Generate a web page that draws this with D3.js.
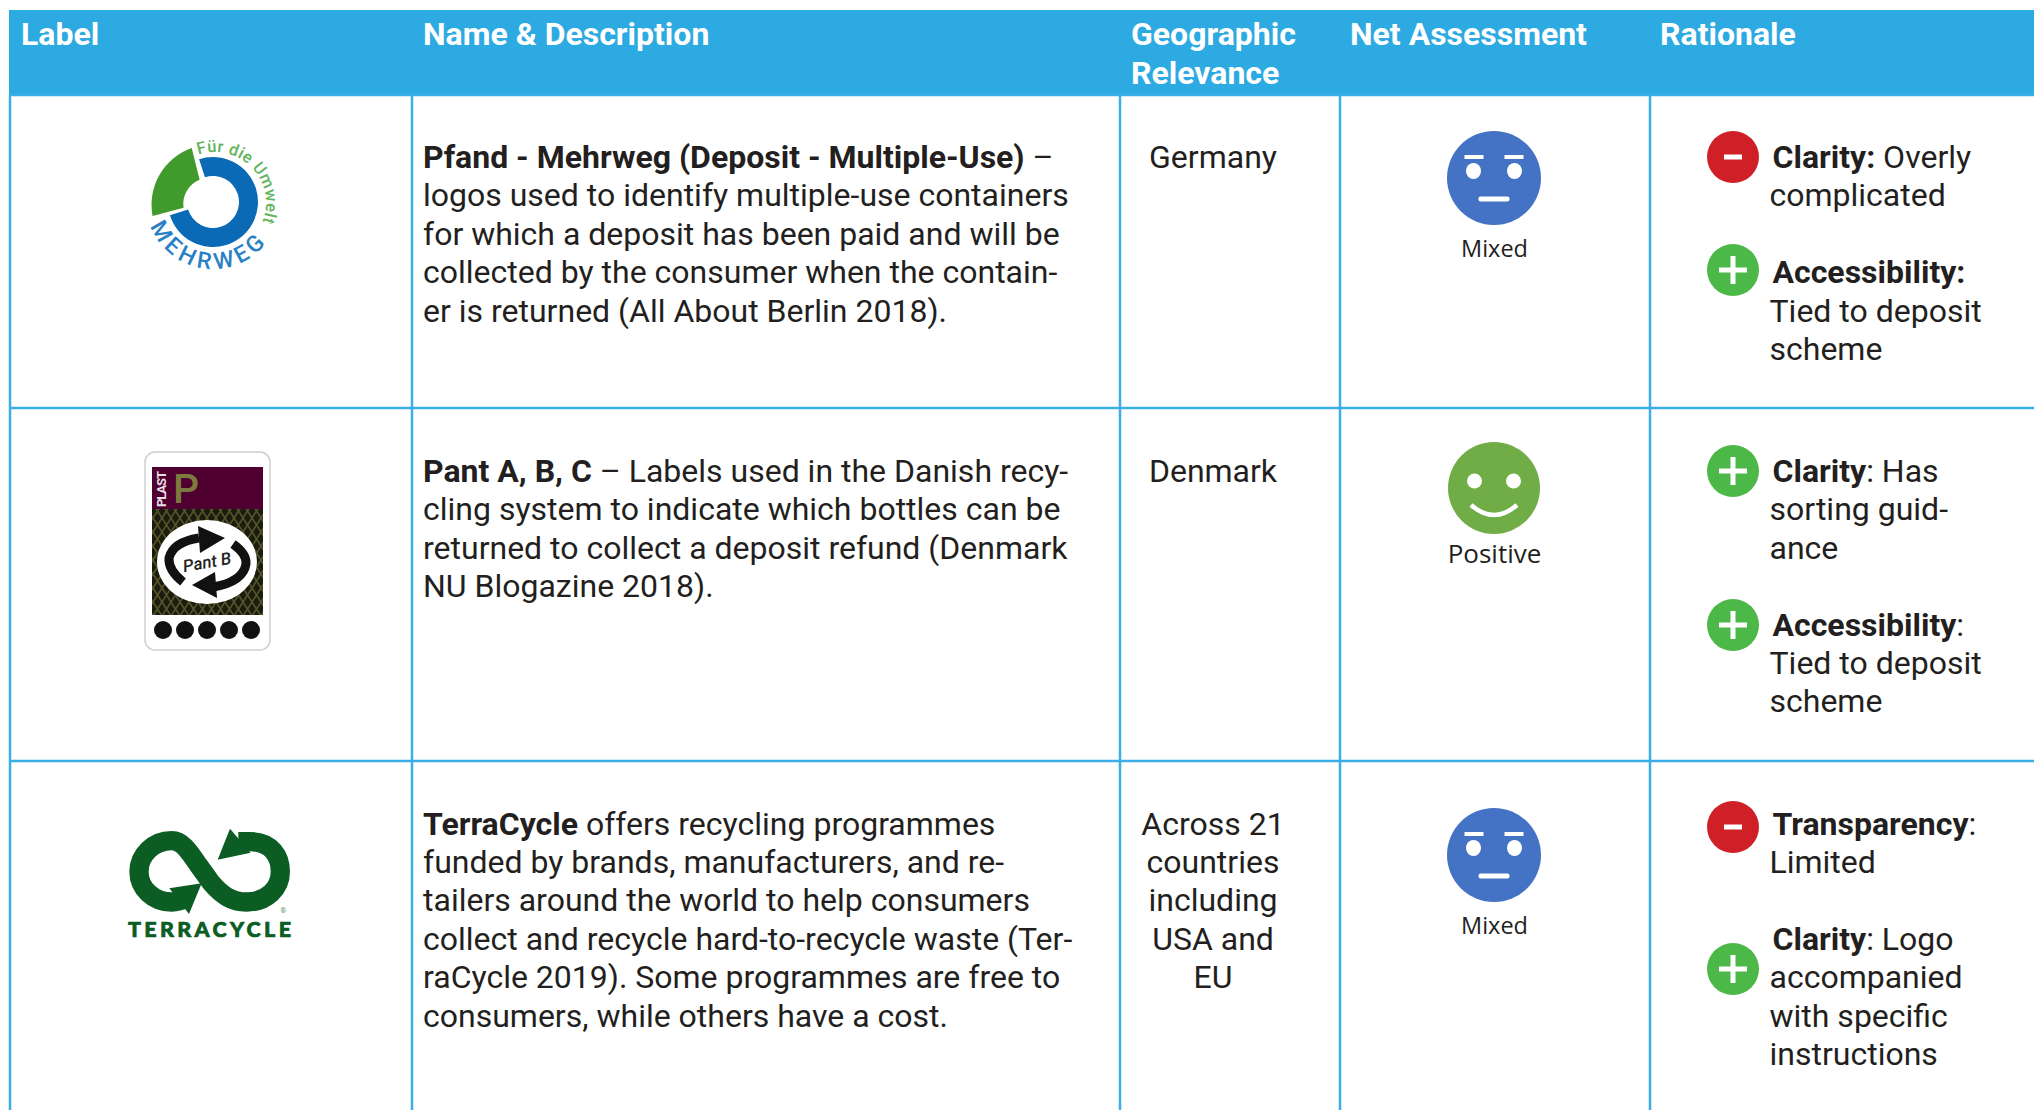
<!DOCTYPE html>
<html>
<head>
    <title>Deposit and recycling labels</title>
    <script src="https://d3js.org/d3.v7.min.js"></script>
    <style>
        html, body { margin: 0; padding: 0; background: #fff; }
        svg { display: block; }
        text { font-family: Roboto, sans-serif; fill: #231f20; }
        .head { fill: #fff; font-weight: 700; font-size: 32px; }
        .body { font-size: 32px; }
        .rating { font-family: "Open Sans", sans-serif; }
    </style>
</head>
<body>
    <svg width="2034" height="1110"></svg>

    <script>
        // Table content. "|" splits the bold lead-in from the normal text of a line
        const headers = [["Label"], ["Name & Description"], ["Geographic", "Relevance"], ["Net Assessment"], ["Rationale"]];
        const descriptions = [
            ["Pfand - Mehrweg (Deposit - Multiple-Use)| –", "logos used to identify multiple-use containers", "for which a deposit has been paid and will be", "collected by the consumer when the contain-", "er is returned (All About Berlin 2018)."],
            ["Pant A, B, C| – Labels used in the Danish recy-", "cling system to indicate which bottles can be", "returned to collect a deposit refund (Denmark", "NU Blogazine 2018)."],
            ["TerraCycle| offers recycling programmes", "funded by brands, manufacturers, and re-", "tailers around the world to help consumers", "collect and recycle hard-to-recycle waste (Ter-", "raCycle 2019). Some programmes are free to", "consumers, while others have a cost."]
        ];
        const geography = [["Germany"], ["Denmark"], ["Across 21", "countries", "including", "USA and", "EU"]];
        const ratings = ["Mixed", "Positive", "Mixed"];
        // empty strings keep the blank line between two rationale points
        const rationale = [
            ["Clarity:| Overly", "complicated", "", "Accessibility:|", "Tied to deposit", "scheme"],
            ["Clarity|: Has", "sorting guid-", "ance", "", "Accessibility|:", "Tied to deposit", "scheme"],
            ["Transparency|:", "Limited", "", "Clarity|: Logo", "accompanied", "with specific", "instructions"]
        ];
        const signs = [["minus", "plus"], ["plus", "plus"], ["minus", "plus"]];

        const colX = [10, 412, 1120, 1340, 1650, 2034];
        const rowY = [95, 408, 761, 1110];
        const firstLine = [168, 482, 834.5];
        const lineH = 38.4;
        const signY = [[157, 270], [471, 625], [827, 969]];
        const faceY = [178, 488, 855];
        const ratingY = [257, 563, 934];
        const ratingSize = [23.5, 26, 23.5];
        const blue = "#2daae1", rule = "#3aafe6";
        const faceX = 1494, signX = 1733;

        const svg = d3.select("svg");

        // writes one line with an optional bold lead-in
        function addLine(sel, line) {
            const parts = line.split("|");
            if (parts.length > 1) {
                sel.append("tspan").attr("font-weight", 700).text(parts[0]);
                sel.append("tspan").text(parts[1]);
            } else {
                sel.text(line);
            }
        }

        // Header band
        svg.append("rect").attr("x", 9).attr("y", 10).attr("width", 2025).attr("height", 85.5).attr("fill", blue);
        const headX = [21, 423, 1131, 1350, 1660];
        headers.forEach((lines, i) => {
            svg.selectAll(null).data(lines).enter().append("text")
                .attr("class", "head")
                .attr("x", headX[i])
                .attr("y", (d, j) => 44.5 + j * 39)
                .text(d => d);
        });

        // Grid
        svg.selectAll(".v").data(colX.slice(0, 5)).enter().append("line")
            .attr("x1", d => d).attr("x2", d => d)
            .attr("y1", 95).attr("y2", 1110)
            .attr("stroke", rule).attr("stroke-width", 2.5);
        svg.selectAll(".h").data(rowY.slice(0, 3)).enter().append("line")
            .attr("x1", 9).attr("x2", 2034)
            .attr("y1", d => d).attr("y2", d => d)
            .attr("stroke", rule).attr("stroke-width", 2.5);

        // Description column
        descriptions.forEach((lines, r) => {
            lines.forEach((line, j) => {
                svg.append("text").attr("class", "body")
                    .attr("x", 423)
                    .attr("y", firstLine[r] + j * lineH)
                    .call(addLine, line);
            });
        });

        // Geography column
        geography.forEach((lines, r) => {
            svg.selectAll(null).data(lines).enter().append("text")
                .attr("class", "body")
                .attr("text-anchor", "middle")
                .attr("x", 1213)
                .attr("y", (d, j) => firstLine[r] + j * lineH)
                .text(d => d);
        });

        // Assessment faces
        ratings.forEach((rating, r) => {
            const g = svg.append("g").attr("transform", `translate(${faceX},${faceY[r]})`);
            if (rating === "Positive") {
                g.append("circle").attr("r", 46).attr("fill", "#70ad47");
                g.selectAll(null).data([-19.5, 19.5]).enter().append("ellipse")
                    .attr("cx", d => d).attr("cy", -7).attr("rx", 7.5).attr("ry", 7.5).attr("fill", "#fff");
                g.append("path").attr("d", "M-23,17 Q0,37 23,17")
                    .attr("fill", "none").attr("stroke", "#fff").attr("stroke-width", 4.5);
            } else {
                g.append("circle").attr("r", 47).attr("fill", "#4472c4");
                g.selectAll(null).data([-20.5, 20.5]).enter().append("ellipse")
                    .attr("cx", d => d).attr("cy", -7).attr("rx", 7.5).attr("ry", 8).attr("fill", "#fff");
                g.selectAll(null).data([-20, 20]).enter().append("rect")
                    .attr("x", d => d - 9.5).attr("y", -23).attr("width", 19).attr("height", 4).attr("fill", "#fff");
                g.append("rect").attr("x", -15.5).attr("y", 18.5).attr("width", 31).attr("height", 5).attr("rx", 2).attr("fill", "#fff");
            }
            svg.append("text").attr("class", "rating")
                .attr("x", faceX + 0.5).attr("y", ratingY[r])
                .attr("font-size", ratingSize[r])
                .attr("text-anchor", "middle").text(rating);
        });

        // Rationale column
        rationale.forEach((lines, r) => {
            lines.forEach((line, j) => {
                if (!line) return;
                svg.append("text").attr("class", "body")
                    .attr("x", line.includes("|") ? 1772.5 : 1769.5)
                    .attr("y", firstLine[r] + j * lineH)
                    .call(addLine, line);
            });
            signs[r].forEach((sign, k) => {
                const g = svg.append("g").attr("transform", `translate(${signX},${signY[r][k]})`);
                g.append("circle").attr("r", 26).attr("fill", sign === "plus" ? "#4cb848" : "#cf2027");
                g.append("rect").attr("x", sign === "plus" ? -14 : -9).attr("y", -2.5)
                    .attr("width", sign === "plus" ? 28 : 18).attr("height", 5).attr("fill", "#fff");
                if (sign === "plus") {
                    g.append("rect").attr("x", -2.5).attr("y", -14).attr("width", 5).attr("height", 28).attr("fill", "#fff");
                }
            });
        });

        // ---- Logos ----
        const defs = svg.append("defs");
        const polar = (deg, r) => {
            const a = deg * Math.PI / 180;
            return [r * Math.sin(a), -r * Math.cos(a)];
        };

        // Mehrweg
        const mehr = svg.append("g").attr("transform", "translate(213,202)");
        mehr.append("path")
            .attr("d", d3.arc().innerRadius(26).outerRadius(45).startAngle(-18 * Math.PI / 180).endAngle(253 * Math.PI / 180)())
            .attr("fill", "#0a6ab5");
        const [a, b, c, e] = [polar(-21.5, 58), polar(-103, 62), polar(-101, 30), polar(-31, 26)];
        mehr.append("path")
            .attr("d", `M${a} A60,60 0 0 0 ${b} L${c} A26,26 0 0 1 ${e} Z`)
            .attr("fill", "#419a2c");
        const [t1, t2] = [polar(-19, 51), polar(125, 51)];
        defs.append("path").attr("id", "arcTop").attr("d", `M${t1} A51,51 0 0 1 ${t2}`)
            .attr("transform", "translate(2,1)");
        const [m1, m2] = [polar(-111, 67), polar(100, 67)];
        defs.append("path").attr("id", "arcBottom").attr("d", `M${m1} A67,67 0 0 0 ${m2}`);
        mehr.append("text").attr("font-size", 16.5).style("fill", "#62b55c").attr("font-weight", 500)
            .append("textPath").attr("href", "#arcTop").attr("textLength", 116).text("Für die Umwelt");
        mehr.append("text").attr("font-size", 23).style("fill", "#2a80c4").attr("font-weight", 500)
            .append("textPath").attr("href", "#arcBottom").attr("textLength", 141).text("MEHRWEG");

        // Pant B card
        const mesh = defs.append("pattern").attr("id", "mesh").attr("width", 9).attr("height", 14)
            .attr("patternUnits", "userSpaceOnUse");
        mesh.append("rect").attr("width", 9).attr("height", 14).attr("fill", "#1c1c0e");
        mesh.append("path").attr("d", "M0,0 L4.5,7 L0,14 M9,0 L4.5,7 L9,14")
            .attr("fill", "none").attr("stroke", "#54542a").attr("stroke-width", 1.6);
        const pant = svg.append("g");
        pant.append("rect").attr("x", 145).attr("y", 452).attr("width", 125).attr("height", 198).attr("rx", 10)
            .attr("fill", "#fff").attr("stroke", "#cfcfcf").attr("stroke-width", 1.5);
        pant.append("rect").attr("x", 152).attr("y", 509).attr("width", 111).attr("height", 106).attr("fill", "url(#mesh)");
        pant.append("rect").attr("x", 152).attr("y", 467).attr("width", 111).attr("height", 42).attr("fill", "#4f0030");
        pant.append("text").attr("transform", "translate(166,507) rotate(-90)")
            .attr("font-size", 13).attr("font-weight", 700).style("fill", "#e8dfe4")
            .attr("textLength", 36).text("PLAST");
        pant.append("text").attr("x", 173).attr("y", 503).attr("font-size", 41).attr("font-weight", 500)
            .style("fill", "#7c7a3c").text("P");
        pant.append("ellipse").attr("cx", 207).attr("cy", 562).attr("rx", 50).attr("ry", 42).attr("fill", "#fff");
        const swirl = pant.append("g").attr("transform", "translate(207,562)");
        swirl.append("path").attr("d", "M-24,20 Q-39,8 -38,-4 Q-34,-20 -8,-24")
            .attr("fill", "none").attr("stroke", "#111").attr("stroke-width", 9);
        swirl.append("path").attr("d", "M-9,-36 L18,-24 L-7,-9 Z").attr("fill", "#111");
        swirl.append("path").attr("d", "M26,-18 Q40,-8 39,2 Q36,20 6,25")
            .attr("fill", "none").attr("stroke", "#111").attr("stroke-width", 9);
        swirl.append("path").attr("d", "M8,10 L-15,23 L10,36 Z").attr("fill", "#111");
        swirl.append("text").attr("transform", "rotate(-10)").attr("text-anchor", "middle")
            .attr("y", 6).attr("font-size", 17).attr("font-style", "italic").attr("font-weight", 500).style("fill", "#222").text("Pant B");
        pant.selectAll(".dot").data(d3.range(5)).enter().append("circle")
            .attr("cx", d => 163 + d * 22).attr("cy", 630).attr("r", 9).attr("fill", "#111");

        // TerraCycle, drawn in a 3x grid like the zoomed crop
        const terra = svg.append("g").attr("transform", "translate(100,800) scale(0.3333)");
        terra.append("path")
            .attr("d", "M415,125 L450,125 C515,125 541,170 541,215 C541,265 500,306 440,306 C395,306 365,285 335,250 L295,195 C265,150 245,122 215,122 C160,122 117,165 117,215 C117,265 160,306 215,306 C230,306 245,302 258,295")
            .attr("fill", "none").attr("stroke", "#0b5d23").attr("stroke-width", 58);
        terra.append("path").attr("d", "M305,250 L267,342 L208,265 Z").attr("fill", "#0b5d23");
        terra.append("path").attr("d", "M353,179 L390,86 L452,158 Z").attr("fill", "#0b5d23");
        svg.append("text").attr("x", 128).attr("y", 937).attr("font-size", 21.5)
            .style("font-family", "Lato").attr("font-weight", 900).style("fill", "#0b5d23")
            .style("stroke", "#0b5d23").style("stroke-width", 0.7)
            .attr("textLength", 163).attr("lengthAdjust", "spacing").text("TERRACYCLE");
        svg.append("text").attr("x", 280.5).attr("y", 913).attr("font-size", 7).style("fill", "#5a8f68").text("®");
    </script>
</body>
</html>
